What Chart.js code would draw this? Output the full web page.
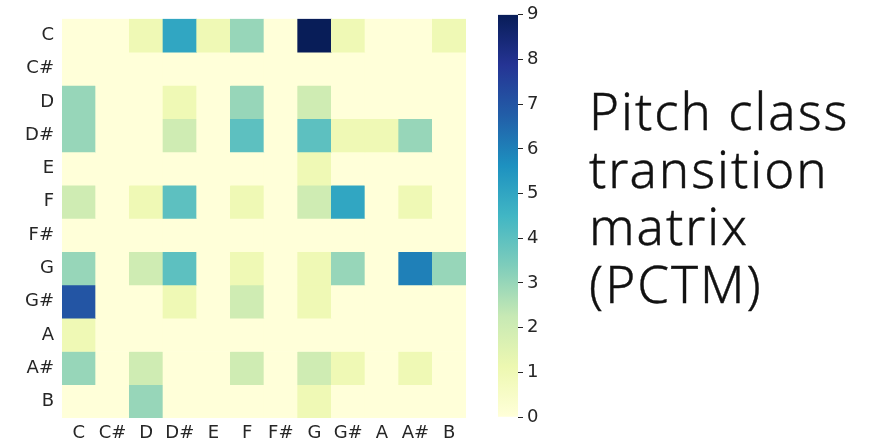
<!DOCTYPE html>
<html>
<head>
<meta charset="utf-8">
<script src="https://cdn.jsdelivr.net/npm/chart.js@4"></script>
<style>
  body { margin: 0; background: #fff; width: 879px; height: 445px; overflow: hidden; position: relative; }
  #heat { position: absolute; left: 0; top: 0; }
  #bar { position: absolute; left: 490px; top: 0; }
  #title { position: absolute; left: 589px; top: 82px; font-family: "Noto Sans", sans-serif; font-weight: 300; font-size: 51px; letter-spacing: 2px; line-height: 57.5px; color: #111; -webkit-text-stroke: 0.4px #111; }
</style>
</head>
<body>
<canvas id="heat" width="480" height="445"></canvas>
<canvas id="bar" width="100" height="445"></canvas>
<div id="title">Pitch class<br>transition<br>matrix<br>(PCTM)</div>
<script>
// pitch classes, rows = from, columns = to
const notes = ['C', 'C#', 'D', 'D#', 'E', 'F', 'F#', 'G', 'G#', 'A', 'A#', 'B'];

const rowC  = [0, 0, 1, 5, 1, 3, 0, 9, 1, 0, 0, 1];
const rowCs = [0, 0, 0, 0, 0, 0, 0, 0, 0, 0, 0, 0];
const rowD  = [3, 0, 0, 1, 0, 3, 0, 2, 0, 0, 0, 0];
const rowDs = [3, 0, 0, 2, 0, 4, 0, 4, 1, 1, 3, 0];
const rowE  = [0, 0, 0, 0, 0, 0, 0, 1, 0, 0, 0, 0];
const rowF  = [2, 0, 1, 4, 0, 1, 0, 2, 5, 0, 1, 0];
const rowFs = [0, 0, 0, 0, 0, 0, 0, 0, 0, 0, 0, 0];
const rowG  = [3, 0, 2, 4, 0, 1, 0, 1, 3, 0, 6, 3];
const rowGs = [7, 0, 0, 1, 0, 2, 0, 1, 0, 0, 0, 0];
const rowA  = [1, 0, 0, 0, 0, 0, 0, 0, 0, 0, 0, 0];
const rowAs = [3, 0, 2, 0, 0, 2, 0, 2, 1, 0, 1, 0];
const rowB  = [0, 0, 3, 0, 0, 0, 0, 1, 0, 0, 0, 0];

const rows = [rowC, rowCs, rowD, rowDs, rowE, rowF, rowFs, rowG, rowGs, rowA, rowAs, rowB];
const vmax = 9;
const cbTicks = [0, 1, 2, 3, 4, 5, 6, 7, 8, 9];

// YlGnBu
const ylgnbu = ['#ffffd9', '#edf8b1', '#c7e9b4', '#7fcdbb', '#41b6c4', '#1d91c0', '#225ea8', '#253494', '#081d58'];

function hex2rgb(h) {
  return [parseInt(h.slice(1, 3), 16), parseInt(h.slice(3, 5), 16), parseInt(h.slice(5, 7), 16)];
}
function cmap(v) {
  let t = Math.max(0, Math.min(1, v / vmax)) * (ylgnbu.length - 1);
  let i = Math.min(Math.floor(t), ylgnbu.length - 2);
  let f = t - i;
  let a = hex2rgb(ylgnbu[i]), b = hex2rgb(ylgnbu[i + 1]);
  let c = a.map((x, k) => Math.round(x + (b[k] - x) * f));
  return 'rgb(' + c.join(',') + ')';
}

const tickFont = { family: 'DejaVu Sans', size: 18 };

const heatSets = rows.map((row, r) => ({
  data: row.map(() => [r, r + 1]),
  backgroundColor: row.map(v => cmap(v)),
  borderWidth: 0,
  barPercentage: 1,
  categoryPercentage: 1,
  grouped: false
}));

new Chart(document.getElementById('heat'), {
  type: 'bar',
  data: { labels: notes, datasets: heatSets },
  options: {
    responsive: false,
    animation: false,
    layout: { padding: { top: 13, right: 14, left: 0, bottom: 0 } },
    plugins: { legend: { display: false }, tooltip: { enabled: false } },
    scales: {
      x: {
        grid: { display: false, drawTicks: false },
        border: { display: false },
        ticks: { color: '#262626', font: tickFont, padding: 5, maxRotation: 0, autoSkip: false },
        afterFit: s => { s.height = 27; }
      },
      y: {
        type: 'linear',
        min: 0, max: 12,
        reverse: true,
        grid: { display: false, drawTicks: false },
        border: { display: false },
        afterBuildTicks: s => { s.ticks = notes.map((n, i) => ({ value: i + 0.5 })); },
        ticks: {
          color: '#262626', font: tickFont, padding: 8, autoSkip: false,
          callback: v => notes[Math.floor(v)]
        },
        afterFit: s => { s.width = 62; }
      }
    }
  }
});

// colour bar
new Chart(document.getElementById('bar'), {
  type: 'bar',
  data: {
    labels: [''],
    datasets: [{
      data: [[0, vmax]],
      borderWidth: 0,
      barPercentage: 1,
      categoryPercentage: 1,
      backgroundColor: ctx => {
        const area = ctx.chart.chartArea;
        if (!area) return ylgnbu[0];
        const g = ctx.chart.ctx.createLinearGradient(0, area.bottom, 0, area.top);
        ylgnbu.forEach((c, i) => g.addColorStop(i / (ylgnbu.length - 1), c));
        return g;
      }
    }]
  },
  options: {
    responsive: false,
    animation: false,
    layout: { padding: { top: 14, bottom: 28, left: 8, right: 0 } },
    plugins: { legend: { display: false }, tooltip: { enabled: false } },
    scales: {
      x: { display: false },
      y: {
        position: 'right',
        min: 0, max: vmax,
        afterBuildTicks: s => { s.ticks = cbTicks.map(v => ({ value: v })); },
        grid: { drawOnChartArea: false, drawTicks: true, tickLength: 5, color: '#262626', lineWidth: 1 },
        border: { display: false },
        ticks: { color: '#262626', font: tickFont, padding: 4 },
        afterFit: s => { s.width = 72; }
      }
    }
  }
});
</script>
</body>
</html>
